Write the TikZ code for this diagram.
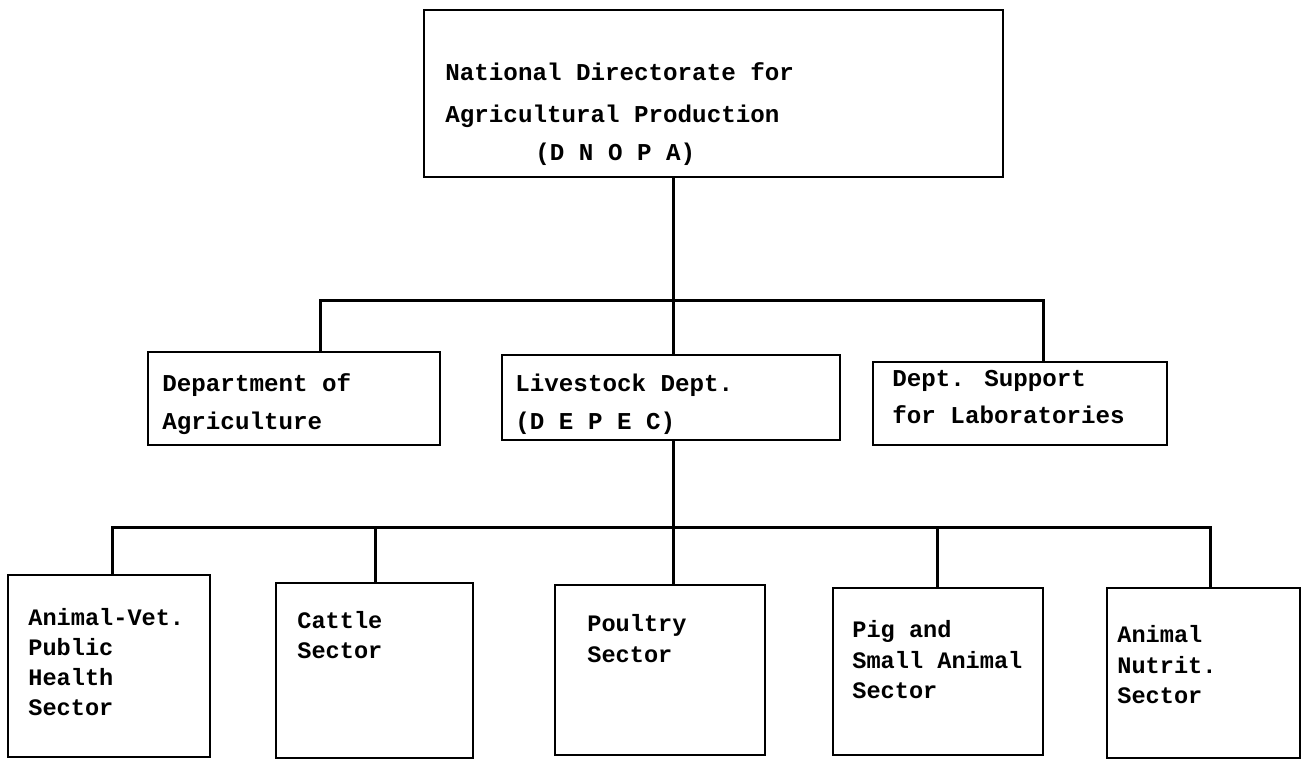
\documentclass[tikz,border=0pt]{standalone}
\usepackage{fontspec}
\newfontfamily\tw{Liberation Mono}[BoldFont={Liberation Mono Bold}]
\begin{document}
\begin{tikzpicture}[x=0.5pt,y=-0.5pt,
  box/.style={draw,line width=1.3pt,rectangle,inner sep=0pt,outer sep=0pt,anchor=north west},
  big/.style={anchor=base west,inner sep=0pt,font=\tw\bfseries\fontsize{12.1}{14}\selectfont},
  sml/.style={anchor=base west,inner sep=0pt,font=\tw\bfseries\fontsize{11.8}{14}\selectfont},
  link/.style={line width=1.5pt}]
\useasboundingbox (0,0) rectangle (1308,760);
% boxes
\node[box,minimum width=289.5pt,minimum height=83.5pt] (top) at (424,10) {};
\node[box,minimum width=146pt,minimum height=46.5pt] (dagr) at (148,352) {};
\node[box,minimum width=169pt,minimum height=42.5pt] (live) at (502,355) {};
\node[box,minimum width=147pt,minimum height=41.5pt] (supp) at (873,362) {};
\node[box,minimum width=101pt,minimum height=91pt] (s1) at (8,575) {};
\node[box,minimum width=98.5pt,minimum height=87.5pt] (s2) at (276,583) {};
\node[box,minimum width=105pt,minimum height=85pt] (s3) at (555,585) {};
\node[box,minimum width=105pt,minimum height=83.5pt] (s4) at (833,588) {};
\node[box,minimum width=96.5pt,minimum height=85pt] (s5) at (1107,588) {};
% texts
\node[big] (t1a) at (445,80) {National Directorate for};
\node[big] (t1b) at (445,122) {Agricultural Production};
\node[big] (t1c) at (535,160) {(D N O P A)};
\node[big] (t2a) at (162,391) {Department of};
\node[big] (t2b) at (162,429) {Agriculture};
\node[big] (t3a) at (515,391) {Livestock Dept.};
\node[big] (t3b) at (515,429) {(D E P E C)};
\node[big] (t4a) at (892,386) {Dept. Support};
\node[big] (t4b) at (892,423) {for Laboratories};
\node[sml] (u1a) at (28,625) {Animal-Vet.};
\node[sml] (u1b) at (28,655) {Public};
\node[sml] (u1c) at (28,685) {Health};
\node[sml] (u1d) at (28,715) {Sector};
\node[sml] (u2a) at (297,628) {Cattle};
\node[sml] (u2b) at (297,658) {Sector};
\node[sml] (u3a) at (587,631) {Poultry};
\node[sml] (u3b) at (587,662) {Sector};
\node[sml] (u4a) at (852,637) {Pig and};
\node[sml] (u4b) at (852,668) {Small Animal};
\node[sml] (u4c) at (852,698) {Sector};
\node[sml] (u5a) at (1117,642) {Animal};
\node[sml] (u5b) at (1117,673) {Nutrit.};
\node[sml] (u5c) at (1117,703) {Sector};
% connector coordinates
\coordinate (st) at (673,300);
\coordinate (l1) at (320,300);
\coordinate (r1) at (1043,300);
\coordinate (bs) at (673,527);
\coordinate (x1) at (112,527);
\coordinate (x2) at (375,527);
\coordinate (x4) at (937,527);
\coordinate (x5) at (1210,527);
% connectors
\draw[link] (top.south -| st) -- (live.north -| st);
\draw[link] (dagr.north -| l1) |- (r1) -- (supp.north -| r1);
\draw[link] (live.south -| bs) -- (bs);
\draw[link] (s1.north -| x1) |- (x5) -- (s5.north -| x5);
\draw[link] (x2) -- (s2.north -| x2);
\draw[link] (bs) -- (s3.north -| bs);
\draw[link] (x4) -- (s4.north -| x4);
\end{tikzpicture}
\end{document}
